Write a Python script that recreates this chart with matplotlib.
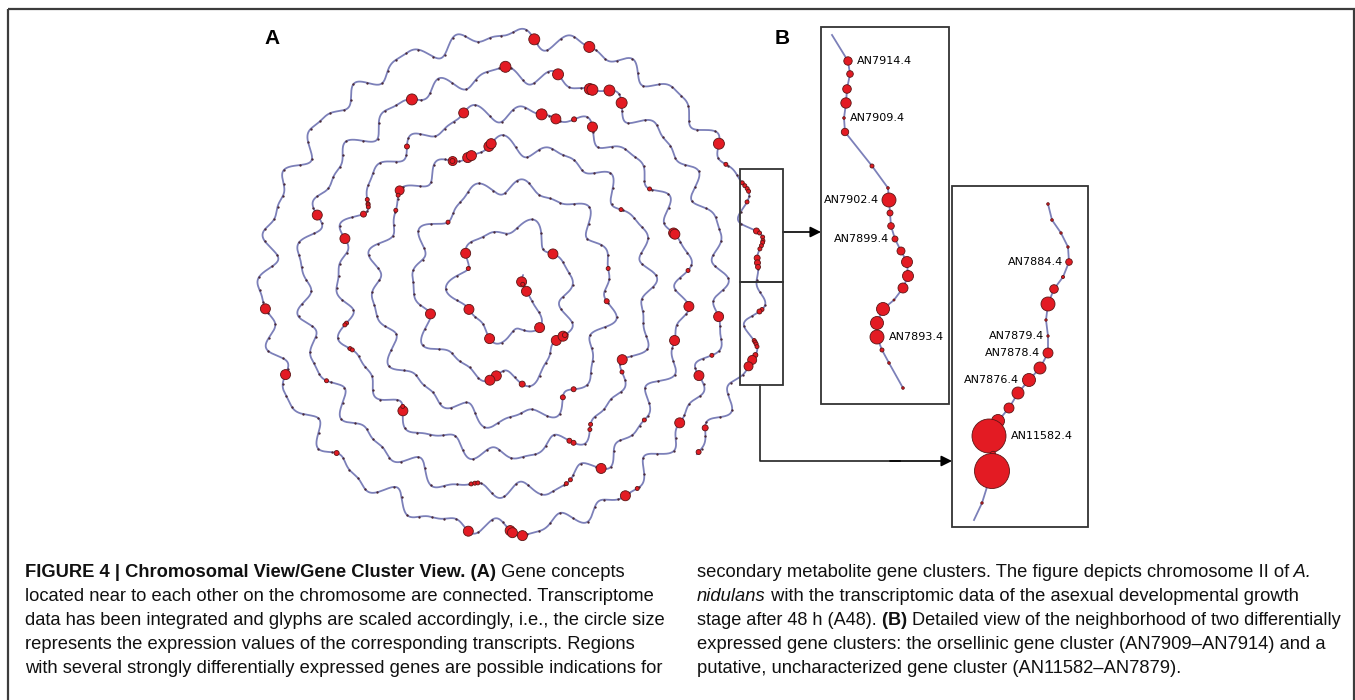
import numpy as np
import matplotlib.pyplot as plt
from matplotlib.patches import Rectangle
from matplotlib import font_manager

# ---- panel A : chromosome II genes (layout position, glyph radius ~ expression)
a_gene_x = [541, 591, 566, 506, 412, 590, 592, 610, 612, 543, 563, 587, 471, 485, 489, 468, 472, 452,
            711, 388, 306, 354, 679, 678, 477, 558, 275, 691, 732, 430, 493, 497, 520, 688, 620, 547,
            551, 558, 486, 296, 490, 493, 697, 421, 672, 602, 629, 472, 513, 517, 521,
            573, 418, 450, 385, 382, 378, 374, 371, 367, 405, 352, 354, 357, 359, 331, 600, 574, 572,
            517, 554, 337, 512, 573, 578, 563, 568, 472, 475, 478, 713, 695, 640, 413, 610, 585, 585,
            716, 637, 621, 599, 453, 475, 693, 648, 730,
            748, 748, 748, 747, 747, 761, 762, 763, 766, 767, 767, 766, 759, 757, 757,
            767, 765, 766, 762, 759, 755, 752, 748, 750]
a_gene_y = [35, 43, 67, 77, 97, 88, 91, 101, 104, 103, 107, 128, 119, 143, 142, 158, 157, 164,
            142, 184, 222, 233, 227, 231, 252, 239, 304, 306, 312, 314, 292, 289, 295, 344, 357, 334,
            333, 328, 341, 379, 368, 387, 377, 411, 417, 465, 501, 527, 528, 527, 526,
            117, 147, 173, 193, 197, 202, 204, 207, 222, 213, 328, 333, 336, 339, 371, 306, 349, 372,
            392, 396, 452, 290, 434, 433, 479, 478, 488, 484, 480, 428, 449, 493, 405, 377, 423, 429,
            365, 413, 210, 270, 230, 272, 275, 193, 157,
            178, 183, 188, 192, 202, 223, 230, 237, 241, 244, 248, 252, 258, 263, 267,
            315, 320, 333, 338, 343, 347, 353, 357, 367]
a_gene_r = [5.5, 5.5, 5.5, 5.5, 5.5, 5.5, 5.5, 5.5, 5.5, 5.5, 5, 5, 5, 5, 5, 5, 5, 4.5,
            5.5, 4.5, 5, 5, 5, 5, 5, 5, 5, 5, 5, 5, 5, 5, 5, 5, 5, 5,
            5, 5, 5, 5, 5, 5, 5, 5, 5, 5, 5, 5, 5, 5, 5,
            2.5, 2.5, 2.5, 2, 2, 2, 2, 2, 3, 2, 2, 2, 2, 2, 2, 2.5, 2.5, 2.5,
            3, 2.5, 2.5, 2, 2.5, 2.5, 2, 2, 2, 2, 2, 3, 2.5, 2, 2, 2, 2, 2,
            2, 2, 2, 2, 2, 2, 2, 2, 2,
            2, 2, 2, 2, 2, 3, 2, 2, 2, 2, 2, 2, 3, 3, 2.5,
            2, 2.5, 2, 2, 2, 2, 2.5, 4.5, 4.5]

# rings of the chromosome spiral (px from centre), steps happen at the lower right
ring_r = [18, 55, 97, 137, 172, 209, 247]
step_t = [-0.861, 0.139, 1.139, 2.139, 3.139, 4.139]

# ---- panel B : the two zoomed neighbourhoods
b1_x = [832, 848, 850, 847, 846, 844, 845, 872, 888, 889, 890, 891, 895, 901, 907, 908, 903, 894, 883, 877, 877, 882, 889, 903]
b1_y = [35, 61, 74, 89, 103, 118, 132, 166, 188, 200, 213, 226, 239, 251, 262, 276, 288, 300, 309, 323, 337, 350, 363, 388]
b1_r = [0, 4.2, 3.3, 4.3, 5.2, 1.3, 3.7, 2.0, 1.3, 7.0, 3.0, 3.3, 3.0, 4.0, 5.5, 5.5, 5.0, 1.0, 6.5, 6.5, 7.0, 2.0, 1.3, 1.3]
b1_labels = [(1, 'AN7914.4', 'r'), (5, 'AN7909.4', 'r'), (9, 'AN7902.4', 'l'), (12, 'AN7899.4', 'l'), (20, 'AN7893.4', 'r')]

b2_x = [1048, 1052, 1061, 1068, 1069, 1063, 1054, 1048, 1046, 1048, 1048, 1040, 1029, 1018, 1009, 998, 989, 993, 992, 982, 974]
b2_y = [204, 220, 233, 247, 262, 277, 289, 304, 320, 336, 353, 368, 380, 393, 408, 421, 436, 454, 471, 503, 520]
b2_r = [1.3, 1.3, 1.2, 1.2, 3.3, 1.5, 4.3, 7.0, 1.2, 1.2, 5.0, 6.0, 6.5, 6.0, 5.0, 6.5, 17.0, 2.7, 17.5, 1.2, 0]
b2_labels = [(4, 'AN7884.4', 'l'), (9, 'AN7879.4', 'l'), (10, 'AN7878.4', 'l'), (12, 'AN7876.4', 'l'), (16, 'AN11582.4', 'r')]

caption_left = [
    [("FIGURE 4 | Chromosomal View/Gene Cluster View. (A)", 'bold', 'normal'), (" Gene concepts", 'normal', 'normal')],
    [("located near to each other on the chromosome are connected. Transcriptome", 'normal', 'normal')],
    [("data has been integrated and glyphs are scaled accordingly, i.e., the circle size", 'normal', 'normal')],
    [("represents the expression values of the corresponding transcripts. Regions", 'normal', 'normal')],
    [("with several strongly differentially expressed genes are possible indications for", 'normal', 'normal')],
]
caption_right = [
    [("secondary metabolite gene clusters. The figure depicts chromosome II of", 'normal', 'normal'), (" A.", 'normal', 'italic')],
    [("nidulans", 'normal', 'italic'), (" with the transcriptomic data of the asexual developmental growth", 'normal', 'normal')],
    [("stage after 48 h (A48).", 'normal', 'normal'), (" (B)", 'bold', 'normal'), (" Detailed view of the neighborhood of two differentially", 'normal', 'normal')],
    [("expressed gene clusters: the orsellinic gene cluster (AN7909\u2013AN7914) and a", 'normal', 'normal')],
    [("putative, uncharacterized gene cluster (AN11582\u2013AN7879).", 'normal', 'normal')],
]

LINE = '#7c80b9'
RED = '#e31b23'
EDGE = '#5c1515'

installed = {f.name for f in font_manager.fontManager.ttflist}
BOLD_FONT = 'Liberation Sans Narrow' if 'Liberation Sans Narrow' in installed else 'Liberation Sans'

W, H = 1355, 700
fig = plt.figure(figsize=(13.55, 7.0), dpi=100)
ax = fig.add_axes([0, 0, 1, 1])
ax.set_xlim(0, W)
ax.set_ylim(H, 0)
ax.axis('off')
renderer = fig.canvas.get_renderer()

def px2s(r):
    return (2 * np.asarray(r, dtype=float) * 0.72) ** 2

# spiral backbone: stepped rings + a wavy offset along the normal
cx, cy = 512, 283
t = np.linspace(-1.1, 5.119, 30000)
r = np.full_like(t, float(ring_r[0]))
for k, tk in enumerate(step_t):
    r += (ring_r[k + 1] - ring_r[k]) / (1 + np.exp(-(t - tk) / 0.03))
ang = 2 * np.pi * t
bx = cx + r * np.cos(ang)
by = cy + r * np.sin(ang)
s = np.concatenate([[0], np.cumsum(np.hypot(np.diff(bx), np.diff(by)))])
dx = np.gradient(bx); dy = np.gradient(by)
nn = np.hypot(dx, dy)
wig = (6.5 * np.sin(2 * np.pi * s / 57) + 3.5 * np.sin(2 * np.pi * s / 36 + 1.3)
       + 2.5 * np.sin(2 * np.pi * s / 97 + 0.4))
sx = bx - wig * dy / nn
sy = by + wig * dx / nn

ax.plot(sx, sy, color=LINE, lw=1.3, zorder=2, solid_capstyle='round')
dots = np.searchsorted(s, np.arange(5, s[-1], 12))
ax.plot(sx[dots], sy[dots], 'o', ms=1.7, color='#4a2a3a', mec='none', zorder=3)

# snap genes onto the backbone
gx = np.array(a_gene_x, dtype=float); gy = np.array(a_gene_y, dtype=float)
near = ((sx[None, :] - gx[:, None]) ** 2 + (sy[None, :] - gy[:, None]) ** 2).argmin(axis=1)
ax.scatter(sx[near], sy[near], s=px2s(a_gene_r), c=RED, edgecolors=EDGE, linewidths=0.6, zorder=4)

# boxes in A and connectors
ax.add_patch(Rectangle((740, 169), 43, 113, fill=False, ec='#333333', lw=1.3, zorder=5))
ax.add_patch(Rectangle((740, 282), 43, 103, fill=False, ec='#333333', lw=1.3, zorder=5))
ax.annotate('', xy=(821, 232), xytext=(783, 232),
            arrowprops=dict(arrowstyle='-|>', color='black', lw=1.2, mutation_scale=16, shrinkA=0, shrinkB=0))
ax.plot([760, 760, 900], [385, 461, 461], color='#222222', lw=1.2)
ax.annotate('', xy=(952, 461), xytext=(890, 461),
            arrowprops=dict(arrowstyle='-|>', color='black', lw=1.2, mutation_scale=16, shrinkA=0, shrinkB=0))

# panel B boxes
ax.add_patch(Rectangle((821, 27), 128, 377, fill=False, ec='#333333', lw=1.3))
ax.add_patch(Rectangle((952, 186), 136, 341, fill=False, ec='#333333', lw=1.3))

def neighbourhood(xs, ys, rs, labels):
    ax.plot(xs, ys, color=LINE, lw=1.3, zorder=2)
    xs = np.array(xs); ys = np.array(ys); rs = np.array(rs)
    m = rs > 0
    ax.scatter(xs[m], ys[m], s=px2s(rs[m]), c=RED, edgecolors=EDGE, linewidths=0.6, zorder=4)
    for i, name, side in labels:
        if side == 'r':
            ax.text(xs[i] + rs[i] + 5, ys[i], name, ha='left', va='center', fontsize=8, family='DejaVu Sans')
        else:
            ax.text(xs[i] - rs[i] - 3, ys[i], name, ha='right', va='center', fontsize=8, family='DejaVu Sans')

neighbourhood(b1_x, b1_y, b1_r, b1_labels)
neighbourhood(b2_x, b2_y, b2_r, b2_labels)

# panel letters and outer frame
ax.text(272, 38, 'A', fontsize=15, fontweight='bold', family='Liberation Sans', ha='center', va='center')
ax.text(782, 38, 'B', fontsize=15, fontweight='bold', family='Liberation Sans', ha='center', va='center')
ax.add_patch(Rectangle((8, 9), 1346, 720, fill=False, ec='#3c3c3c', lw=1.6))

# caption, two columns, pieces chained along each line
def caption_line(x, y, pieces, size, right):
    arts = []
    cur = x
    for txt, weight, style in pieces:
        fam = BOLD_FONT if weight == 'bold' else 'Liberation Sans'
        tx = ax.text(cur, y, txt, fontsize=size, fontweight=weight, fontstyle=style,
                     family=fam, ha='left', va='baseline', color='#111111')
        cur += tx.get_window_extent(renderer).width
        arts.append(tx)
    if cur > right:
        for tx in arts:
            tx.remove()
        caption_line(x, y, pieces, size * (right - x) / (cur - x) * 0.995, right + 1000)

for i, pieces in enumerate(caption_left):
    caption_line(25, 577 + 24 * i, pieces, 13.2, 665)
for i, pieces in enumerate(caption_right):
    caption_line(697, 577 + 24 * i, pieces, 13.2, 1348)

fig.savefig('out.png', dpi=100)
